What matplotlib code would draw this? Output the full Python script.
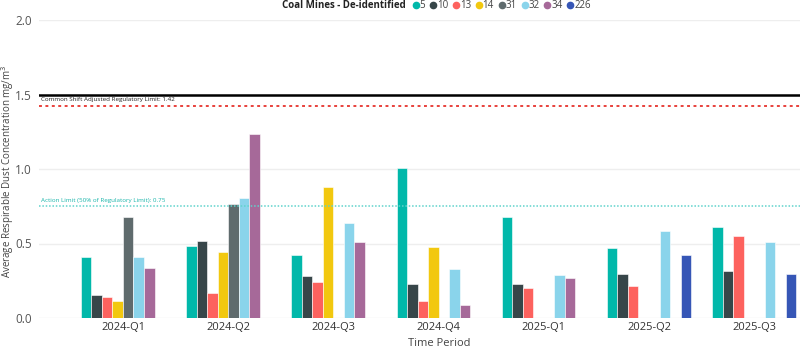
import numpy as np
import matplotlib.pyplot as plt
from matplotlib.lines import Line2D

plt.rcParams["font.family"] = ["Open Sans", "DejaVu Sans"]

periods = ["2024-Q1", "2024-Q2", "2024-Q3", "2024-Q4", "2025-Q1", "2025-Q2", "2025-Q3"]
mines = ["5", "10", "13", "14", "31", "32", "34", "226"]
colors = ["#01B8AA", "#374649", "#FD625E", "#F2C80F", "#5F6B6D", "#8AD4EB", "#A66999", "#3656B6"]

nan = np.nan
mine_5 = [0.41, 0.48, 0.42, 1.01, 0.68, 0.47, 0.61]
mine_10 = [0.155, 0.52, 0.28, 0.23, 0.225, 0.295, 0.315]
mine_13 = [0.14, 0.17, 0.24, 0.113, 0.203, 0.214, 0.547]
mine_14 = [0.117, 0.444, 0.876, 0.478, nan, nan, nan]
mine_31 = [0.678, 0.766, nan, nan, nan, nan, nan]
mine_32 = [0.41, 0.808, 0.635, 0.331, 0.29, 0.581, 0.509]
mine_34 = [0.336, 1.234, 0.513, 0.086, 0.27, nan, nan]
mine_226 = [nan, nan, nan, nan, nan, 0.424, 0.295]
series = [mine_5, mine_10, mine_13, mine_14, mine_31, mine_32, mine_34, mine_226]

reg_limit = 1.42
action_limit = 0.75
top_line = 1.5


def main():
    fig = plt.figure(figsize=(8, 3.51), dpi=100)
    ax = fig.add_axes([39 / 800, 33 / 351, 761 / 800, 298 / 351])

    x = np.arange(len(periods))
    w = 0.1
    for j, (vals, c) in enumerate(zip(series, colors)):
        ax.bar(x + (j - 3.5) * w, vals, width=w, color=c, edgecolor="white", linewidth=0.4, zorder=3)

    ax.set_ylim(0, 2.0)
    ax.set_xlim(-0.798, 6.435)
    ax.set_yticks([0, 0.5, 1.0, 1.5, 2.0])
    ax.set_yticklabels(["0.0", "0.5", "1.0", "1.5", "2.0"])
    ax.set_xticks(x)
    ax.set_xticklabels(periods)
    ax.grid(axis="y", color="#EEEEEE", linewidth=1, zorder=0)
    for s in ax.spines.values():
        s.set_visible(False)
    ax.tick_params(length=0, labelsize=8, colors="#333333", pad=3)
    ax.tick_params(axis="y", labelsize=8.5, colors="#555555", pad=5)

    ax.axhline(top_line, color="black", linewidth=1.8, zorder=4)
    ax.axhline(reg_limit, color="#E8413C", linewidth=1.4, linestyle=(0, (1.5, 1.8)), zorder=4)
    ax.axhline(action_limit, color="#5FD3CC", linewidth=1.1, linestyle=(0, (1, 1.2)), zorder=4)
    ax.text(0.002, 1.465, "Common Shift Adjusted Regulatory Limit: 1.42", transform=ax.get_yaxis_transform(),
            fontsize=4.5, color="#222222", va="center")
    ax.text(0.002, 0.79, "Action Limit (50% of Regulatory Limit): 0.75", transform=ax.get_yaxis_transform(),
            fontsize=4.5, color="#1AB5AA", va="center")

    fig.text(439 / 800, 1 - 343 / 351, "Time Period", fontsize=8, color="#444444", ha="center", va="center")
    fig.text(8 / 800, 1 - 171 / 351, "Average Respirable Dust Concentration mg/m$^3$", fontsize=7,
             color="#444444", rotation=90, ha="center", va="center")

    title = fig.text(282 / 800, 1 - 6 / 351, "Coal Mines - De-identified", fontsize=7, fontweight="bold",
                     color="#222222", va="center", ha="left")
    fig.canvas.draw()
    bb = title.get_window_extent()
    handles = [Line2D([], [], marker="o", linestyle="", color=c, markersize=4.5) for c in colors]
    fig.legend(handles, mines, loc="center left", bbox_to_anchor=((bb.x1 + 4) / 800, 1 - 6 / 351), ncol=8,
               frameon=False, fontsize=7, handletextpad=-0.2, columnspacing=0.2, handlelength=1.2,
               borderpad=0, borderaxespad=0, labelcolor="#444444")

    fig.savefig("out.png", dpi=100)


if __name__ == "__main__":
    main()
